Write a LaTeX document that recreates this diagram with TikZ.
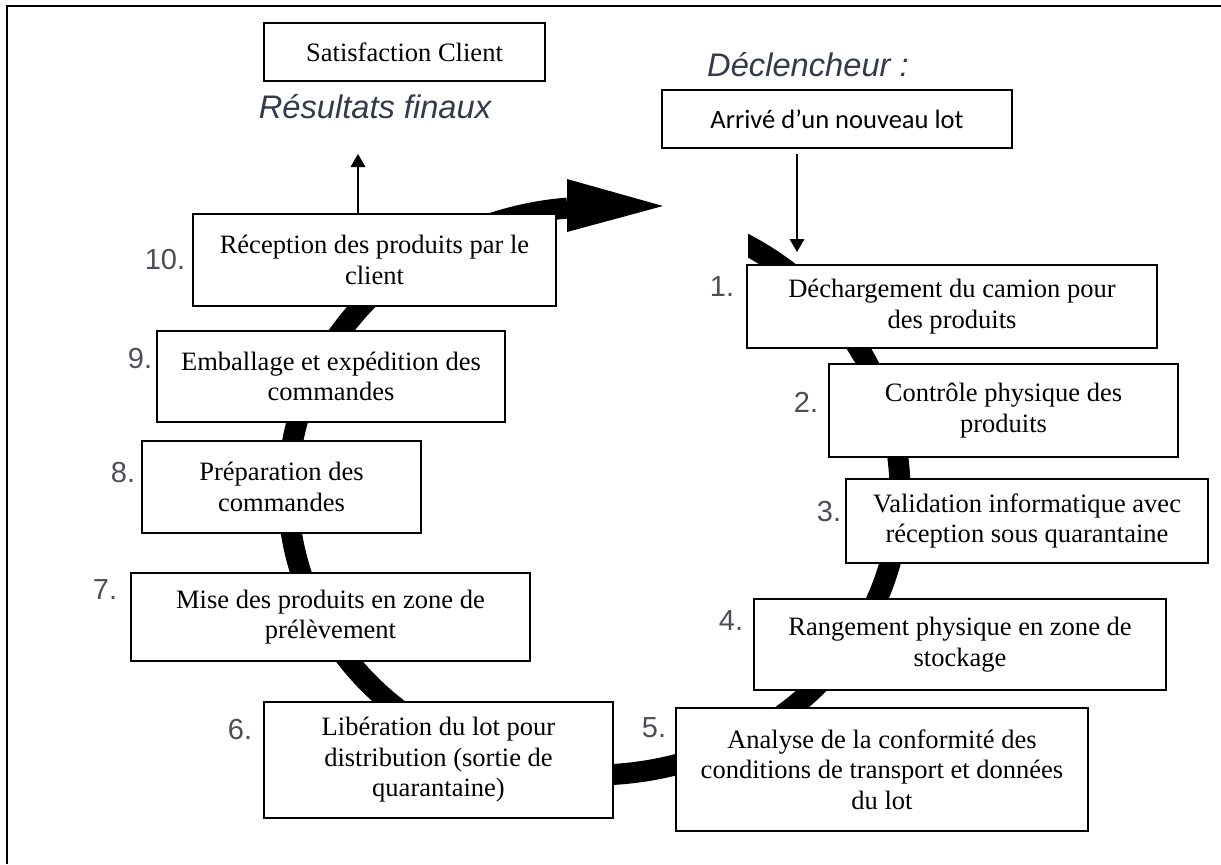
\documentclass[tikz,border=0pt]{standalone}
\usepackage{fontspec}
\setmainfont{Liberation Serif}
\newfontfamily\arialfont{Liberation Sans}
\newfontfamily\calibrifont{Carlito}
\definecolor{numgray}{RGB}{75,78,88}
\definecolor{titleslate}{RGB}{50,58,75}
\usetikzlibrary{arrows.meta, positioning}

\begin{document}
\begin{tikzpicture}[x=0.75pt, y=-0.75pt,
  etape/.style={draw, fill=white, line width=0.9pt, align=center, inner sep=2pt,
                font=\fontsize{19.9}{22.9}\selectfont},
  num/.style={font=\arialfont\fontsize{21.75}{24}\selectfont, text=numgray, inner sep=0pt},
  lbl/.style={font=\arialfont\itshape\fontsize{24.5}{28}\selectfont, text=titleslate, inner sep=0pt},
  fleche/.style={-{Triangle[length=9.75pt, width=11pt]}, line width=1pt},
  cycle/.style={line width=15.75pt},
]
\useasboundingbox (0,0) rectangle (1221,864);
% outer frame, only left and top edges
\draw[line width=1.8pt] (7,864) -- (7,6) -- (1221,6);

% big cycle arrow (start cut straight at the left)
\begin{scope}
  \clip (748,150) rectangle (900,320);
  \draw[cycle] (594,491) ++(-66:306 and 284)
    arc[start angle=-66, end angle=-48, x radius=306, y radius=284];
\end{scope}
\draw[cycle] (594,491) ++(-50:306 and 284)
  arc[start angle=-50, end angle=265, x radius=306, y radius=284];
\fill (567,179) -- (663,206) -- (567,232) -- cycle;

% top labels
\node[etape, minimum width=210.75pt, minimum height=43.5pt] (sat) at (404.5,52) {Satisfaction Client};
\node[lbl] (res) at (375,107) {Résultats finaux};
\node[lbl] (decl) at (808,65) {Déclencheur :};
\node[etape, font=\calibrifont\fontsize{19.9}{22.9}\selectfont,
      minimum width=262.5pt, minimum height=43.5pt] (trig) at (837,119) {Arrivé d’un nouveau lot};

% steps
\node[etape, minimum width=307.5pt, minimum height=62.25pt] (b1) at (952,306.5) {Déchargement du camion pour\\des produits};
\node[etape, minimum width=261.75pt, minimum height=69.75pt] (b2) at (1003.5,410.5) {Contrôle physique des\\produits};
\node[etape, minimum width=271.5pt, minimum height=63pt] (b3) at (1027,521) {Validation informatique avec\\réception sous quarantaine};
\node[etape, minimum width=309pt, minimum height=68.25pt] (b4) at (960,644.5) {Rangement physique en zone de\\stockage};
\node[etape, minimum width=309pt, minimum height=92.25pt] (b5) at (882,769.5) {Analyse de la conformité des\\conditions de transport et données\\du lot};
\node[etape, minimum width=261.75pt, minimum height=87pt] (b6) at (438.5,760) {Libération du lot pour\\distribution (sortie de\\quarantaine)};
\node[etape, minimum width=299.25pt, minimum height=66pt] (b7) at (330.5,617) {Mise des produits en zone de\\prélèvement};
\node[etape, minimum width=209.25pt, minimum height=69pt] (b8) at (281.5,487) {Préparation des\\commandes};
\node[etape, minimum width=261pt, minimum height=68.25pt] (b9) at (331,376.5) {Emballage et expédition des\\commandes};
\node[etape, minimum width=272.25pt, minimum height=69pt] (b10) at (374.5,260) {Réception des produits par le\\client};

% step numbers
\node[num] (n1) at (722,287) {1.};
\node[num] (n2) at (806,402) {2.};
\node[num] (n3) at (829,512) {3.};
\node[num] (n4) at (731,621) {4.};
\node[num] (n5) at (654,728) {5.};
\node[num] (n6) at (240,730) {6.};
\node[num] (n7) at (105,590) {7.};
\node[num] (n8) at (123,473) {8.};
\node[num] (n9) at (140,359) {9.};
\node[num] (n10) at (165,260) {10.};

% thin arrows
\coordinate (restip) at (358,154);
\draw[fleche] (b10.north -| restip) -- (restip);
\coordinate (dtip) at (797,252);
\draw[fleche, shorten <=3.75pt] (trig.south -| dtip) -- (dtip);
\end{tikzpicture}
\end{document}
